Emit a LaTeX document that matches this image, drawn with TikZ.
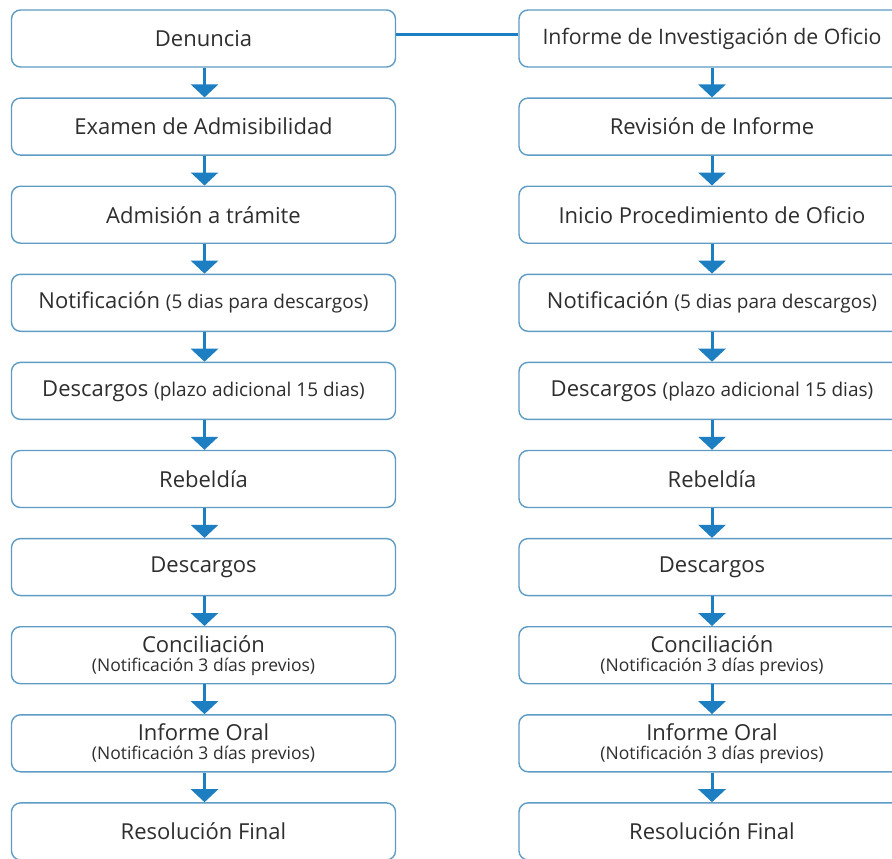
\documentclass[tikz,border=0pt]{standalone}
\usepackage{fontspec}
\setmainfont{Open Sans}
\usetikzlibrary{arrows.meta}
\definecolor{boxline}{HTML}{5E9CC4}
\definecolor{flow}{HTML}{1D7EC2}
\definecolor{txt}{HTML}{2E2E2E}

% smaller text inside a box
\newcommand{\aside}[1]{{\fontsize{19}{20}\selectfont #1}}
\newcommand{\subline}[1]{{\fontsize{17.5}{18}\selectfont #1}}

\begin{document}
\begin{tikzpicture}[x=1pt,y=-1pt,
  stage/.style={draw=boxline, line width=1.4pt, rounded corners=9pt, fill=white,
    minimum width=384pt, minimum height=57pt, inner sep=0pt, align=center,
    text=txt, font=\fontsize{22}{22}\selectfont},
  wide/.style={minimum width=386pt},
  flowarrow/.style={draw=flow, line width=3pt, -{Triangle[width=27pt,length=13pt]}},
  link/.style={draw=flow, line width=3pt},
]
\useasboundingbox (0,0) rectangle (892,859);
\clip (0,0) rectangle (892,859);
\fill[white] (0,0) rectangle (892,859);

% left column: complaint-driven procedure
\node[stage] (l0) at (203.5, 38.5) {Denuncia};
\node[stage] (l1) at (203.5,126.6) {Examen de Admisibilidad};
\node[stage] (l2) at (203.5,214.7) {Admisión a trámite};
\node[stage] (l3) at (203.5,302.8) {Notificación \aside{(5 dias para descargos)}};
\node[stage] (l4) at (203.5,390.9) {Descargos \aside{(plazo adicional 15 dias)}};
\node[stage] (l5) at (203.5,479.0) {Rebeldía};
\node[stage] (l6) at (203.5,567.1) {Descargos};
\node[stage] (l7) at (203.5,655.2) {Conciliación\\[-3pt]\subline{(Notificación 3 días previos)}};
\node[stage] (l8) at (203.5,743.3) {Informe Oral\\[-3pt]\subline{(Notificación 3 días previos)}};
\node[stage] (l9) at (203.5,831.4) {Resolución Final};

% right column: ex officio procedure
\node[stage, wide] (r0) at (712, 38.5) {\fontsize{21.3}{22}\selectfont Informe de Investigación de Oficio};
\node[stage, wide] (r1) at (712,126.6) {Revisión de Informe};
\node[stage, wide] (r2) at (712,214.7) {Inicio Procedimiento de Oficio};
\node[stage, wide] (r3) at (712,302.8) {Notificación \aside{(5 dias para descargos)}};
\node[stage, wide] (r4) at (712,390.9) {Descargos \aside{(plazo adicional 15 dias)}};
\node[stage, wide] (r5) at (712,479.0) {Rebeldía};
\node[stage, wide] (r6) at (712,567.1) {Descargos};
\node[stage, wide] (r7) at (712,655.2) {Conciliación\\[-3pt]\subline{(Notificación 3 días previos)}};
\node[stage, wide] (r8) at (712,743.3) {Informe Oral\\[-3pt]\subline{(Notificación 3 días previos)}};
\node[stage, wide] (r9) at (712,831.4) {Resolución Final};

% link between the two starting points
\draw[link] ([yshift=3.5pt]l0.east) -- ([yshift=3.5pt]r0.west);

% step arrows
\foreach \a/\b in {0/1,1/2,2/3,3/4,4/5,5/6,6/7,7/8,8/9}{
  \draw[flowarrow] ([xshift=1pt]l\a.south) -- ([xshift=1pt]l\b.north);
  \draw[flowarrow] (r\a.south) -- (r\b.north);
}
\end{tikzpicture}
\end{document}
